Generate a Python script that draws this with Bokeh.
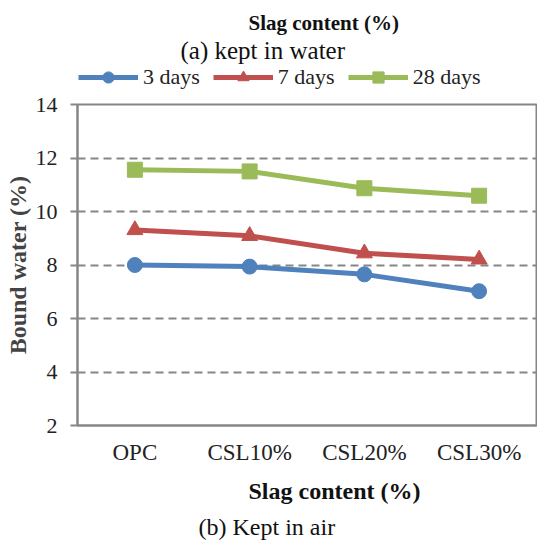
from bokeh.plotting import figure
from bokeh.layouts import column
from bokeh.models import Title, Legend, LegendItem, FactorRange, Range1d, FixedTicker
from bokeh.embed import file_html
from bokeh.resources import INLINE

categories = ["OPC", "CSL10%", "CSL20%", "CSL30%"]
d3 = [8.0, 7.94, 7.65, 7.02]
d7 = [9.31, 9.09, 8.44, 8.21]
d28 = [11.56, 11.5, 10.87, 10.59]
series_names = ["3 days", "7 days", "28 days"]
y_ticks = [2, 4, 6, 8, 10, 12, 14]

FONT = "Liberation Serif"
GRAY = "#868686"
colors = ["#4F81BD", "#C0504D", "#9BBB59"]
markers = ["circle", "triangle", "square"]
sizes = [15, 16, 15]
W = 537

# ---- top strip: titles + legend ----
top = figure(width=W, height=92, x_range=FactorRange(*categories, range_padding=0),
             y_range=Range1d(100, 101), output_backend="svg", toolbar_location=None,
             min_border_left=77, min_border_right=1, min_border_top=63, min_border_bottom=0)
top.axis.visible = False
top.grid.visible = False
top.outline_line_color = None
top.border_fill_color = "white"
items = []
for name, vals, c, m, s in zip(series_names, [d3, d7, d28], colors, markers, sizes):
    l = top.line(categories, vals, line_color=c, line_width=5)
    sc = top.scatter(categories, vals, marker=m, size=s, fill_color=c, line_color=c)
    items.append(LegendItem(label=name, renderers=[l, sc]))
legend = Legend(items=items, orientation="horizontal", location=(1, 1),
                label_text_font=FONT, label_text_font_size="22px", label_text_color="#222222",
                glyph_width=60, glyph_height=28, label_standoff=5, spacing=13,
                padding=0, margin=0, border_line_color=None, background_fill_alpha=0)
top.add_layout(legend)
t_a = Title(text="(a) kept in water", text_font=FONT, text_font_size="25px", standoff=0,
            text_font_style="normal", align="left", offset=103, text_color="#111111")
top.add_layout(t_a, "above")
t_s = Title(text="Slag content (%)", text_font=FONT, text_font_size="21px", standoff=0,
            text_font_style="bold", align="left", offset=171, text_color="#111111")
top.add_layout(t_s, "above")

# ---- main chart ----
p = figure(width=W, height=454, x_range=FactorRange(*categories, range_padding=0),
           y_range=Range1d(2, 14), output_backend="svg", toolbar_location=None,
           min_border_left=77, min_border_right=1, min_border_top=12, min_border_bottom=121)
p.background_fill_color = "white"
p.border_fill_color = "white"
p.outline_line_color = GRAY
p.outline_line_width = 2

p.xgrid.visible = False
p.ygrid.grid_line_color = GRAY
p.ygrid.grid_line_width = 2
p.ygrid.grid_line_dash = "8 5"

p.yaxis.ticker = FixedTicker(ticks=y_ticks)
for ax in (p.xaxis[0], p.yaxis[0]):
    ax.axis_line_color = GRAY
    ax.axis_line_width = 2
    ax.major_label_text_font = FONT
    ax.major_label_text_color = "#222222"
    ax.minor_tick_line_color = None
p.yaxis.major_tick_line_color = GRAY
p.yaxis.major_tick_line_width = 2
p.yaxis.major_tick_out = 7
p.yaxis.major_tick_in = 0
p.yaxis.major_label_text_font_size = "22px"
p.yaxis.major_label_standoff = 13
p.yaxis.axis_label = "Bound water (%)"
p.yaxis.axis_label_text_font = FONT
p.yaxis.axis_label_text_font_style = "bold"
p.yaxis.axis_label_text_font_size = "24px"
p.yaxis.axis_label_standoff = 2

p.xaxis.major_tick_line_color = None
p.xaxis.major_label_text_font_size = "23px"
p.xaxis.major_label_standoff = 8

for vals, c, m, s in zip([d3, d7, d28], colors, markers, sizes):
    p.line(categories, vals, line_color=c, line_width=5)
    p.scatter(categories, vals, marker=m, size=s, fill_color=c, line_color=c)

b_s = Title(text="Slag content (%)", text_font=FONT, text_font_size="24px", standoff=16,
            text_font_style="bold", align="left", offset=171, text_color="#111111")
p.add_layout(b_s, "below")
b_b = Title(text="(b) Kept in air", text_font=FONT, text_font_size="24px", standoff=1,
            text_font_style="normal", align="left", offset=121, text_color="#111111")
p.add_layout(b_b, "below")

layout = column(top, p, spacing=0)
open("out.html", "w").write(file_html(layout, INLINE))
